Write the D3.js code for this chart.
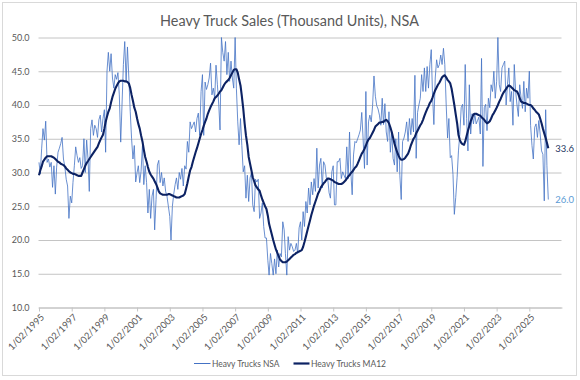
<!DOCTYPE html>
<html>
<head>
<meta charset="utf-8">
<script src="https://cdn.jsdelivr.net/npm/d3@7"></script>
<style>
  html, body { margin: 0; padding: 0; background: #ffffff; }
  svg { display: block; font-family: Lato, "Open Sans", "Noto Sans", sans-serif; }
</style>
</head>
<body>
<svg id="chart" width="580" height="380"></svg>
<script>
// ---------------- data ----------------
const chartTitle = "Heavy Truck Sales (Thousand Units), NSA";
const seriesNames = ["Heavy Trucks NSA", "Heavy Trucks MA12"];
const firstMonth = "1/02/1995";   // first monthly observation (d/mm/yyyy)
const axisLastMonth = "1/02/2027"; // end of the date axis

// monthly, Feb 1995 onward (thousand units)
const nsa = [
  31.5, 29.8, 33.5, 36.5, 34.8, 37.6, 31.5, 32.0, 30.8, 31.5, 27.8, 31.0,
  26.8, 30.8, 33.0, 33.6, 34.3, 35.2, 32.0, 30.8, 29.0, 28.0, 23.2, 26.5,
  25.5, 28.5, 31.0, 33.8, 32.5, 31.5, 32.2, 30.6, 31.0, 35.0, 30.0, 34.8,
  32.0, 27.2, 36.5, 37.8, 35.5, 37.0, 36.5, 35.2, 37.8, 38.5, 36.0, 38.0,
  39.3, 33.0, 45.0, 47.8, 45.0, 47.6, 44.0, 42.5, 44.5, 43.8, 44.8, 41.5,
  34.5, 40.0, 46.0, 49.4, 43.5, 48.6, 44.0, 39.0, 35.0, 32.0, 34.0, 28.6,
  30.0, 31.0, 28.5, 30.2, 34.0, 28.2, 31.0, 28.5, 24.0, 27.5, 23.2, 26.5,
  27.5, 21.5, 26.0, 31.1, 31.8, 28.5, 30.0, 28.0, 29.2, 27.2, 26.5, 25.0,
  23.5, 20.0, 25.0, 26.8, 28.2, 29.2, 27.5, 30.0, 29.0, 30.6, 28.0, 31.0,
  30.5, 34.6, 33.0, 37.5, 36.5, 37.0, 37.5, 36.0, 38.0, 38.8, 35.5, 42.0,
  44.5, 35.5, 43.4, 42.3, 43.0, 44.0, 46.2, 41.5, 42.5, 41.0, 45.9, 43.0,
  40.0, 36.3, 50.0, 47.8, 46.5, 49.4, 44.5, 47.8, 43.5, 46.5, 44.0, 42.5,
  50.0, 42.5, 37.5, 34.1, 38.0, 34.0, 30.1, 31.0, 26.2, 29.6, 25.7, 29.2,
  30.0, 25.2, 24.2, 29.0, 28.6, 29.0, 23.2, 24.0, 25.5, 22.0, 20.3, 20.3,
  17.0, 14.8, 18.0, 16.5, 14.8, 17.2, 15.0, 18.5, 16.0, 18.0, 17.5, 22.7,
  21.5, 18.0, 14.8, 20.5, 18.5, 19.5, 19.0, 18.3, 18.5, 19.5, 18.0, 21.8,
  22.7, 20.0, 24.2, 22.0, 25.7, 24.0, 27.7, 25.2, 28.6, 26.7, 29.1, 27.2,
  33.6, 27.7, 31.1, 32.1, 27.7, 31.6, 31.1, 29.1, 29.1, 27.0, 26.2, 30.1,
  31.0, 25.2, 25.2, 31.6, 31.6, 32.1, 29.1, 30.1, 29.6, 29.1, 33.8, 29.1,
  36.0, 30.1, 26.7, 32.6, 34.6, 34.4, 35.0, 35.6, 36.3, 38.9, 35.0, 30.6,
  42.0, 31.1, 37.5, 38.5, 37.5, 39.9, 44.3, 41.3, 39.9, 39.4, 38.5, 37.0,
  41.0, 37.1, 40.2, 36.0, 34.6, 39.0, 33.0, 36.0, 32.1, 31.1, 35.0, 30.1,
  36.0, 29.6, 26.0, 34.6, 35.1, 36.0, 37.5, 34.6, 38.0, 35.6, 38.0, 36.0,
  44.4, 32.1, 38.9, 40.0, 41.0, 44.5, 42.0, 45.5, 42.0, 45.7, 42.5, 46.0,
  48.2, 41.5, 37.1, 44.0, 46.7, 45.5, 46.0, 47.4, 46.0, 48.4, 46.0, 40.0,
  35.1, 38.0, 32.2, 32.5, 29.7, 23.8, 26.3, 29.3, 33.2, 35.7, 39.6, 40.1,
  37.0, 46.0, 38.0, 33.2, 43.0, 35.7, 38.7, 37.2, 38.7, 37.2, 37.7, 38.2,
  35.7, 46.9, 30.9, 39.6, 40.1, 36.2, 41.0, 39.6, 43.0, 42.0, 45.0, 41.0,
  43.5, 50.0, 43.0, 42.0, 45.5, 46.0, 46.5, 40.0, 43.0, 45.5, 40.5, 42.0,
  37.0, 46.0, 42.0, 40.0, 38.3, 43.0, 41.0, 39.5, 43.5, 39.0, 42.5, 41.0,
  45.0, 37.0, 34.0, 32.0, 36.7, 37.2, 35.2, 37.7, 35.7, 33.2, 32.7, 25.8,
  39.3, 31.0, 26.0
];

const ma12 = [
  29.6, 30.3, 30.9, 31.6, 31.9, 32.2, 32.4, 32.4, 32.4, 32.4, 32.3, 32.2,
  32.0, 31.8, 31.6, 31.5, 31.3, 31.2, 31.1, 30.9, 30.6, 30.4, 30.2, 30.0,
  29.9, 29.8, 29.8, 29.7, 29.6, 29.5, 29.5, 29.5, 30.0, 30.5, 31.0, 31.4,
  31.7, 32.0, 32.3, 32.6, 32.9, 33.2, 33.5, 33.8, 34.3, 34.8, 35.2, 35.6,
  36.5, 37.5, 38.3, 39.0, 39.5, 40.4, 41.2, 41.8, 42.4, 42.8, 43.2, 43.5,
  43.6, 43.6, 43.6, 43.5, 43.5, 43.4, 43.2, 42.5, 41.5, 40.6, 39.6, 39.0,
  38.0, 37.2, 36.5, 35.5, 34.6, 33.4, 32.3, 31.6, 30.8, 30.1, 29.7, 29.4,
  29.1, 28.7, 28.3, 27.8, 27.2, 26.9, 26.8, 26.7, 26.7, 26.7, 26.7, 26.8,
  26.8, 26.7, 26.6, 26.5, 26.4, 26.3, 26.3, 26.3, 26.4, 26.5, 26.6, 26.8,
  27.6, 28.4, 29.4, 30.3, 30.8, 31.6, 32.3, 33.0, 33.6, 34.3, 35.0, 35.7,
  36.3, 36.9, 37.5, 38.0, 38.7, 39.2, 39.7, 40.1, 40.5, 41.0, 41.2, 41.4,
  41.7, 42.0, 42.2, 42.6, 43.0, 43.3, 43.5, 43.7, 44.0, 44.4, 44.8, 45.2,
  45.3, 45.3, 44.8, 43.8, 42.9, 41.3, 39.5, 37.3, 35.5, 34.1, 32.3, 31.3,
  30.3, 29.3, 28.7, 28.1, 27.8, 27.5, 27.3, 26.6, 26.0, 25.5, 25.0, 24.6,
  23.6, 22.4, 21.6, 20.8, 20.0, 19.3, 18.6, 18.1, 17.6, 17.1, 16.9, 16.7,
  16.7, 16.7, 16.8, 17.0, 17.2, 17.4, 17.6, 17.8, 17.9, 18.1, 18.2, 18.3,
  18.4, 18.5, 19.0, 19.7, 20.5, 21.3, 22.1, 22.9, 23.7, 24.4, 25.1, 25.7,
  26.3, 26.9, 27.3, 27.8, 28.1, 28.4, 28.6, 28.9, 29.1, 29.1, 29.0, 28.9,
  28.8, 28.6, 28.5, 28.4, 28.3, 28.3, 28.3, 28.4, 28.6, 28.8, 29.1, 29.4,
  29.6, 29.9, 30.1, 30.4, 30.7, 30.9, 31.3, 31.8, 32.3, 32.8, 33.1, 33.5,
  34.0, 34.5, 34.9, 35.1, 35.5, 35.9, 36.3, 36.8, 37.0, 37.2, 37.4, 37.4,
  37.5, 37.5, 37.7, 37.8, 37.6, 37.3, 36.7, 36.0, 35.2, 34.3, 33.6, 33.0,
  32.5, 32.1, 31.9, 31.9, 32.0, 32.2, 32.5, 32.8, 33.3, 34.0, 34.5, 35.0,
  35.3, 35.8, 36.2, 36.6, 37.0, 37.3, 37.8, 38.4, 38.9, 39.4, 39.8, 40.3,
  40.6, 41.1, 41.7, 42.2, 42.6, 43.0, 43.3, 43.7, 44.1, 44.3, 44.4, 44.1,
  43.7, 43.5, 43.2, 42.4, 41.2, 40.0, 38.6, 37.3, 35.6, 34.8, 34.4, 34.2,
  34.1, 34.6, 35.4, 36.2, 36.9, 37.6, 38.1, 38.6, 38.7, 38.7, 38.6, 38.5,
  38.4, 38.2, 38.0, 37.8, 37.5, 37.3, 37.4, 37.6, 38.0, 38.5, 38.8, 39.2,
  39.6, 40.0, 40.5, 40.9, 41.4, 41.8, 42.1, 42.4, 42.7, 42.9, 42.8, 42.6,
  42.4, 42.2, 42.1, 42.0, 41.6, 41.0, 40.5, 40.4, 40.3, 40.3, 40.2, 40.1,
  40.0, 40.0, 39.8, 39.5, 39.3, 39.0, 38.8, 38.6, 38.0, 37.3, 36.5, 35.8,
  35.1, 34.4, 33.6
];

const yTicks = [10, 15, 20, 25, 30, 35, 40, 45, 50];
const xTickLabels = [
  "1/02/1995", "1/02/1997", "1/02/1999", "1/02/2001", "1/02/2003", "1/02/2005",
  "1/02/2007", "1/02/2009", "1/02/2011", "1/02/2013", "1/02/2015", "1/02/2017",
  "1/02/2019", "1/02/2021", "1/02/2023", "1/02/2025"
];

// ---------------- drawing ----------------
const parseDate = d3.timeParse("%-d/%m/%Y");
const start = parseDate(firstMonth);
const dates = nsa.map((_, i) => d3.timeMonth.offset(start, i));
const tickDates = xTickLabels.map(parseDate);

const colors = { nsa: "#4472c4", ma: "#0c2263", grid: "#c4c4c4", text: "#595959", nsaLabel: "#5b9bd5" };
const plot = { left: 38.5, right: 561.5, top: 37.5, bottom: 307.5 };

const svg = d3.select("#chart");

svg.append("rect")
  .attr("x", 2.5).attr("y", 2.5).attr("width", 574).attr("height", 373)
  .attr("fill", "#ffffff").attr("stroke", "#d9d9d9").attr("stroke-width", 1);

const x = d3.scaleTime()
  .domain([start, parseDate(axisLastMonth)])
  .range([39, 562]);
const y = d3.scaleLinear().domain([10, 50]).range([plot.bottom, plot.top]);

// title
svg.append("text")
  .attr("x", 289.5).attr("y", 26)
  .attr("text-anchor", "middle")
  .attr("font-size", 14.5)
  .attr("fill", colors.text)
  .attr("textLength", 259).attr("lengthAdjust", "spacingAndGlyphs")
  .text(chartTitle);

// y axis with gridlines
const yAxis = svg.append("g")
  .attr("transform", `translate(${plot.left},0)`)
  .call(d3.axisLeft(y).tickValues(yTicks).tickFormat(d3.format(".1f"))
    .tickSize(-(plot.right - plot.left)).tickPadding(9));
yAxis.select(".domain").remove();
yAxis.selectAll(".tick line").attr("stroke", colors.grid).attr("stroke-width", 1);
yAxis.selectAll(".tick text")
  .attr("fill", colors.text).attr("font-size", 9).attr("font-family", "Lato, sans-serif");

// x axis
const xAxis = svg.append("g")
  .attr("transform", `translate(0,${plot.bottom})`)
  .call(d3.axisBottom(x).tickValues(tickDates).tickFormat((d, i) => xTickLabels[i])
    .tickSize(4).tickSizeOuter(0));
xAxis.select(".domain").attr("stroke", colors.grid);
xAxis.selectAll(".tick line").attr("stroke", colors.grid);
xAxis.selectAll(".tick text")
  .attr("fill", colors.text).attr("font-size", 9.4).attr("font-family", "Lato, sans-serif")
  .attr("text-anchor", "end")
  .attr("x", 0).attr("y", 0).attr("dy", "0.35em")
  .attr("transform", "translate(3,8) rotate(-45)");

// lines
const line = d3.line()
  .x((d, i) => x(dates[i]))
  .y(d => y(d));

svg.append("path")
  .datum(nsa)
  .attr("fill", "none")
  .attr("stroke", colors.nsa)
  .attr("stroke-width", 0.8)
  .attr("stroke-linejoin", "round")
  .attr("d", line);

svg.append("path")
  .datum(ma12)
  .attr("fill", "none")
  .attr("stroke", colors.ma)
  .attr("stroke-width", 2.1)
  .attr("stroke-linejoin", "round")
  .attr("d", line);

// end labels
const last = nsa.length - 1;
const fmt = d3.format(".1f");
svg.append("text")
  .attr("x", x(dates[last]) + 7).attr("y", y(ma12[last]))
  .attr("dy", "0.35em").attr("font-size", 9.5).attr("fill", "#1f3864")
  .text(fmt(ma12[last]));
svg.append("text")
  .attr("x", x(dates[last]) + 7).attr("y", y(nsa[last]))
  .attr("dy", "0.35em").attr("font-size", 9.5).attr("fill", colors.nsaLabel)
  .text(fmt(nsa[last]));

// legend
const legend = svg.append("g").attr("transform", "translate(0,363.5)");
const legendItems = [
  { name: seriesNames[0], color: colors.nsa, width: 1, x0: 194, x1: 210.5, tx: 212, tl: 67.5 },
  { name: seriesNames[1], color: colors.ma, width: 2.2, x0: 293.5, x1: 309.5, tx: 311, tl: 75 }
];
legendItems.forEach(it => {
  legend.append("line")
    .attr("x1", it.x0).attr("x2", it.x1).attr("y1", 0).attr("y2", 0)
    .attr("stroke", it.color).attr("stroke-width", it.width);
  legend.append("text")
    .attr("x", it.tx).attr("y", 0).attr("dy", "0.35em")
    .attr("font-size", 9.5).attr("fill", colors.text)
    .attr("textLength", it.tl).attr("lengthAdjust", "spacingAndGlyphs")
    .text(it.name);
});
</script>
</body>
</html>
